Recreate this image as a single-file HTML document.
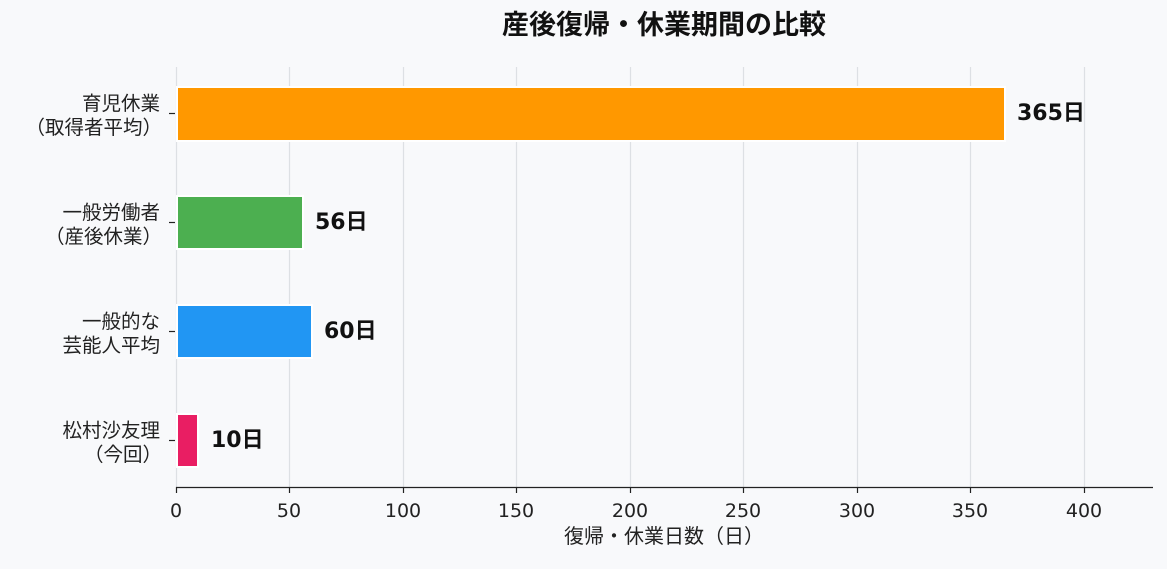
<!DOCTYPE html><html><head><meta charset="utf-8"><style>body{margin:0;background:#f8f9fb}</style></head><body>
<svg width="1167" height="564" xmlns="http://www.w3.org/2000/svg" font-family="DejaVu Sans, Noto Sans CJK JP, sans-serif">
<rect width="1167" height="564" fill="#f8f9fb"/>
<g stroke="#dde0e4" stroke-width="1.2">
<line x1="176.5" y1="67" x2="176.5" y2="487"/><line x1="289.5" y1="67" x2="289.5" y2="487"/><line x1="403.5" y1="67" x2="403.5" y2="487"/><line x1="516.5" y1="67" x2="516.5" y2="487"/><line x1="630.5" y1="67" x2="630.5" y2="487"/><line x1="743.5" y1="67" x2="743.5" y2="487"/><line x1="857.5" y1="67" x2="857.5" y2="487"/><line x1="970.5" y1="67" x2="970.5" y2="487"/><line x1="1084.5" y1="67" x2="1084.5" y2="487"/>
</g>
<g stroke="#fff" stroke-width="2">
<rect x="177" y="87" width="828" height="54" fill="#ff9800"/>
<rect x="177" y="196" width="126" height="53" fill="#4caf50"/>
<rect x="177" y="305" width="135" height="53" fill="#2196f3"/>
<rect x="177" y="414" width="21" height="53" fill="#e91e63"/>
</g>
<line x1="176" y1="487.5" x2="1153" y2="487.5" stroke="#222" stroke-width="1.3"/>
<g stroke="#222" stroke-width="1.2">
<line x1="176.5" y1="487" x2="176.5" y2="493"/><line x1="289.5" y1="487" x2="289.5" y2="493"/><line x1="403.5" y1="487" x2="403.5" y2="493"/><line x1="516.5" y1="487" x2="516.5" y2="493"/><line x1="630.5" y1="487" x2="630.5" y2="493"/><line x1="743.5" y1="487" x2="743.5" y2="493"/><line x1="857.5" y1="487" x2="857.5" y2="493"/><line x1="970.5" y1="487" x2="970.5" y2="493"/><line x1="1084.5" y1="487" x2="1084.5" y2="493"/>
<line x1="169" y1="113.5" x2="175" y2="113.5"/><line x1="169" y1="222.5" x2="175" y2="222.5"/><line x1="169" y1="331.5" x2="175" y2="331.5"/><line x1="169" y1="440.5" x2="175" y2="440.5"/>
</g>
<g font-size="19" fill="#222" text-anchor="middle">
<text x="176" y="517">0</text><text x="289" y="517">50</text><text x="403" y="517">100</text><text x="516" y="517">150</text><text x="630" y="517">200</text><text x="743" y="517">250</text><text x="857" y="517">300</text><text x="970" y="517">350</text><text x="1084" y="517">400</text>
</g>
<g font-size="19.5" fill="#222" text-anchor="end">
<text x="160" y="110">育児休業</text><text x="162" y="134">（取得者平均）</text>
<text x="160" y="219">一般労働者</text><text x="162" y="243">（産後休業）</text>
<text x="160" y="328">一般的な</text><text x="160" y="352">芸能人平均</text>
<text x="160" y="437">松村沙友理</text><text x="162" y="461">（今回）</text>
</g>
<g font-size="22" font-weight="bold" fill="#111">
<text x="1017" y="120">365日</text><text x="315" y="229">56日</text><text x="324" y="338">60日</text><text x="211" y="447">10日</text>
</g>
<text x="664" y="543" font-size="20" fill="#222" text-anchor="middle">復帰・休業日数（日）</text>
<text x="664" y="34" font-size="27" font-weight="bold" fill="#111" text-anchor="middle">産後復帰・休業期間の比較</text>
</svg></body></html>
